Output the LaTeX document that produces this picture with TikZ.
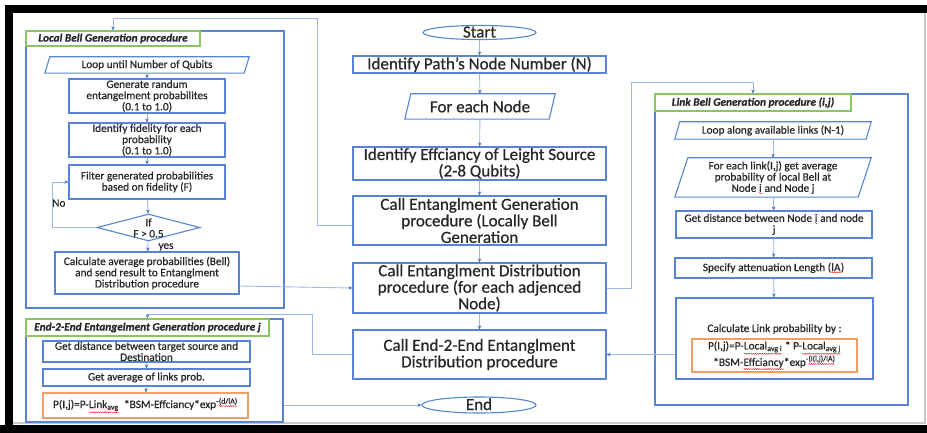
\documentclass[tikz,border=0pt]{standalone}
\usepackage{fontspec}
\setmainfont{Carlito}[FakeBold=0.6]
\usetikzlibrary{shapes.geometric,arrows.meta,decorations.pathmorphing}
\definecolor{boxblue}{RGB}{88,132,210}
\definecolor{lineblue}{RGB}{158,184,230}
\definecolor{tipblue}{RGB}{68,114,196}
\definecolor{titlegreen}{RGB}{140,196,100}
\definecolor{formorange}{RGB}{240,160,100}
\definecolor{txt}{RGB}{38,38,38}
\definecolor{sqred}{RGB}{230,40,40}
\newcommand\sqg[1]{\tikz[baseline=(sqw.base)]{\node[shape=rectangle,draw=none,fill=none,inner sep=0pt,outer sep=0pt,minimum width=0pt,minimum height=0pt,text width=,text height=,text depth=,align=none,font=,anchor=base](sqw){#1};\draw[sqred,line width=0.45pt,decorate,decoration={snake,amplitude=0.55pt,segment length=2.2pt}]([yshift=-1.3pt]sqw.south west)--([yshift=-1.3pt]sqw.south east);}}
\tikzset{
  bx/.style={draw=boxblue,line width=1.1pt,rectangle,inner sep=0pt,text=txt,align=center},
  big/.style={font=\fontsize{17}{16.5}\selectfont},
  sm/.style={font=\fontsize{11.3}{11.2}\selectfont},
  ttl/.style={draw=titlegreen,line width=1.1pt,fill=white,inner sep=0pt,text=txt,font=\fontsize{11.3}{12}\selectfont\bfseries\itshape},
  orng/.style={draw=formorange,line width=1.1pt,inner sep=0pt,text=txt,align=center},
  pgtext/.style={inner sep=0pt,text=txt,align=center},
  pgram/.style={draw=boxblue,line width=1.1pt,line join=miter},
  conn/.style={draw=lineblue,line width=0.9pt,-{Stealth[length=4pt,width=3.5pt,color=tipblue]}},
  lbl/.style={inner sep=0pt,text=txt}
}
\begin{document}
\begin{tikzpicture}[x=1pt,y=-1pt]
\useasboundingbox (0,0) rectangle (927,433);
% frame
\fill[black] (5,5) rectangle (927,13);
\fill[black] (5,5) rectangle (13,433);
\fill[black] (0,425) rectangle (927,433);
\draw[black!22,line width=1.2pt] (925,13) -- (925,424);
\draw[black!22,line width=1.2pt] (13,423) -- (925,423);

% ---------- central column ----------
\node[ellipse,draw=boxblue,line width=1.1pt,inner sep=0pt,minimum width=113pt,minimum height=14pt,text height=10pt,text depth=0pt,text=txt,big] (start) at (479.5,32.5) {Start};
\node[bx,big,minimum width=253pt,minimum height=17pt] (path) at (479.5,64.5) {Identify Path’s Node Number (N)};
\node[pgtext,big,minimum width=150pt,minimum height=25pt] (fen) at (480,106.5) {For each Node};
\draw[pgram] ([xshift=6pt]fen.north west) -- (fen.north east) -- ([xshift=-6pt]fen.south east) -- (fen.south west) -- cycle;
\node[bx,big,minimum width=253pt,minimum height=33pt] (eff) at (479.5,163.5) {Identify Effciancy of Leight Source\\(2-8 Qubits)};
\node[bx,big,minimum width=253pt,minimum height=49pt] (gen) at (479.5,220.5) {Call Entanglment Generation\\procedure (Locally Bell\\Generation};
\node[bx,big,minimum width=253pt,minimum height=50pt] (dist) at (479.5,288) {Call Entanglment Distribution\\procedure (for each adjenced\\Node)};
\node[bx,big,minimum width=253pt,minimum height=49pt] (e2e) at (479.5,354.5) {Call End-2-End Entanglment\\Distribution procedure};
\node[ellipse,draw=boxblue,line width=1.1pt,inner sep=0pt,minimum width=114pt,minimum height=16pt,text height=10pt,text depth=0pt,text=txt,big] (endn) at (479,405) {End};

\draw[conn] (start) -- (path);
\draw[conn] (path) -- (fen);
\draw[conn] (fen) -- (eff);
\draw[conn] (eff) -- (gen);
\draw[conn] (gen) -- (dist);
\draw[conn] (dist) -- (e2e);

% ---------- Local Bell Generation procedure ----------
\node[draw=boxblue,line width=1.1pt,minimum width=258pt,minimum height=277pt,inner sep=0pt] (lbox) at (155,169.5) {};
\node[ttl,minimum width=174pt,minimum height=15pt] (ltitle) at (113,38.5) {Local Bell Generation procedure};
\node[pgtext,sm,minimum width=204pt,minimum height=16pt] (lloop) at (147,65) {Loop until Number of Qubits};
\draw[pgram] ([xshift=5pt]lloop.north west) -- (lloop.north east) -- ([xshift=-5pt]lloop.south east) -- (lloop.south west) -- cycle;
\node[bx,sm,minimum width=156pt,minimum height=34pt] (lgen) at (147,96) {Generate randum\\entangelment probabilites\\(0.1 to 1.0)};
\node[bx,sm,minimum width=156pt,minimum height=34pt] (lfid) at (147,140) {Identify fidelity for each\\probability\\(0.1 to 1.0)};
\node[bx,sm,minimum width=156pt,minimum height=34pt] (lfil) at (147,182) {Filter generated probabilities\\based on fidelity (F)};
\node[diamond,draw=boxblue,line width=1.1pt,minimum width=103pt,minimum height=27pt,inner sep=0pt] (dec) at (148.5,227.5) {};
\node[lbl,sm,align=center] (dect) at (148.5,228) {If\\F > 0.5};
\node[bx,sm,minimum width=184pt,minimum height=42pt] (lcalc) at (147,273) {Calculate average probabilities (Bell)\\and send result to Entanglment\\Distribution procedure};
\node[lbl,sm,anchor=west] (lno) at (52,203) {No};
\node[lbl,sm] (lyes) at (166,247) {yes};

\draw[conn] (lloop) -- (lgen);
\draw[conn] (lgen) -- (lfid);
\draw[conn] (lfid) -- (lfil);
\draw[conn] (lfil) -- (dec);
\draw[conn] (dec) -- (lcalc);
\draw[conn] (dec.west) -- ++(-44,0) |- (lfil.west);

% ---------- End-2-End Entanglement Generation procedure ----------
\node[draw=boxblue,line width=1.1pt,minimum width=257pt,minimum height=103pt,inner sep=0pt] (ebox) at (154.5,370.5) {};
\node[ttl,minimum width=243pt,minimum height=17pt] (etitle) at (147.5,327.5) {End-2-End Entangelment Generation procedure j};
\node[bx,sm,minimum width=207pt,minimum height=21pt] (egd) at (146.5,351.5) {Get distance between target source and\\Destination};
\node[bx,sm,minimum width=207pt,minimum height=17pt] (ega) at (146.5,377.5) {Get average of links prob.};
\node[orng,sm,minimum width=205pt,minimum height=25pt] (efor) at (145.5,405.5) {P(I,j)=P-\sqg{Link\textsubscript{avg}}\ \ *BSM-Effciancy*exp\textsuperscript{-\sqg{(d/lA)}}};
\draw[conn] (egd) -- (ega);
\draw[conn] (ega) -- (efor);

% ---------- Link Bell Generation procedure ----------
\node[draw=boxblue,line width=1.1pt,minimum width=253pt,minimum height=311pt,inner sep=0pt] (rbox) at (781.5,249.5) {};
\node[ttl,minimum width=196pt,minimum height=17pt] (rtitle) at (753,102.5) {Link Bell Generation procedure (i,j)};
\node[pgtext,sm,minimum width=196pt,minimum height=17pt] (rloop) at (773,130.5) {Loop along available links (N-1)};
\draw[pgram] ([xshift=5pt]rloop.north west) -- (rloop.north east) -- ([xshift=-5pt]rloop.south east) -- (rloop.south west) -- cycle;
\node[pgtext,sm,minimum width=196pt,minimum height=39pt] (rfor) at (773,177.5) {For each link(I,j) get average\\probability of local Bell at\\Node \sqg{i} and Node j};
\draw[pgram] ([xshift=13pt]rfor.north west) -- (rfor.north east) -- ([xshift=-13pt]rfor.south east) -- (rfor.south west) -- cycle;
\node[bx,sm,minimum width=196pt,minimum height=27pt] (rd) at (774,224.5) {Get distance between Node \sqg{i} and node\\j};
\node[bx,sm,minimum width=197pt,minimum height=20pt] (rs) at (773.5,268) {Specify attenuation Length (\sqg{lA})};
\node[bx,minimum width=197pt,minimum height=81pt] (rc) at (774.5,338.5) {};
\node[lbl,sm] (rct) at (774.5,329) {Calculate Link probability by :};
\node[orng,sm,minimum width=165pt,minimum height=33pt] (rfm) at (774.5,355.5) {P(I,j)=P-\sqg{Local\textsubscript{avg i}}\ * P-\sqg{Local\textsubscript{avg j}}\\{}*BSM-\sqg{Effciancy}*exp\textsuperscript{-\sqg{(l(i,j)/lA)}}};
\draw[conn] (rloop) -- (rfor);
\draw[conn] (rfor) -- (rd);
\draw[conn] (rd) -- (rs);
\draw[conn] (rs) -- (rc);

% ---------- cross connectors ----------
\coordinate (k1) at (317,18);
\coordinate (k2) at (631,82);
\coordinate (k3) at (312,314);
\draw[conn] ([yshift=-4.5pt]gen.west) -| (k1) -| (ltitle.north);
\draw[conn] ([yshift=-13pt]lcalc.east) -- (dist.west);
\draw[conn] (dist.east) -| (k2) -| (rtitle.north);
\draw[conn] (e2e.west) -| (k3) -| (etitle.north);
\draw[conn] (rc.west |- e2e.east) -- (e2e.east);
\draw[conn] (ebox.east |- endn.west) -- (endn.west);
\end{tikzpicture}
\end{document}
